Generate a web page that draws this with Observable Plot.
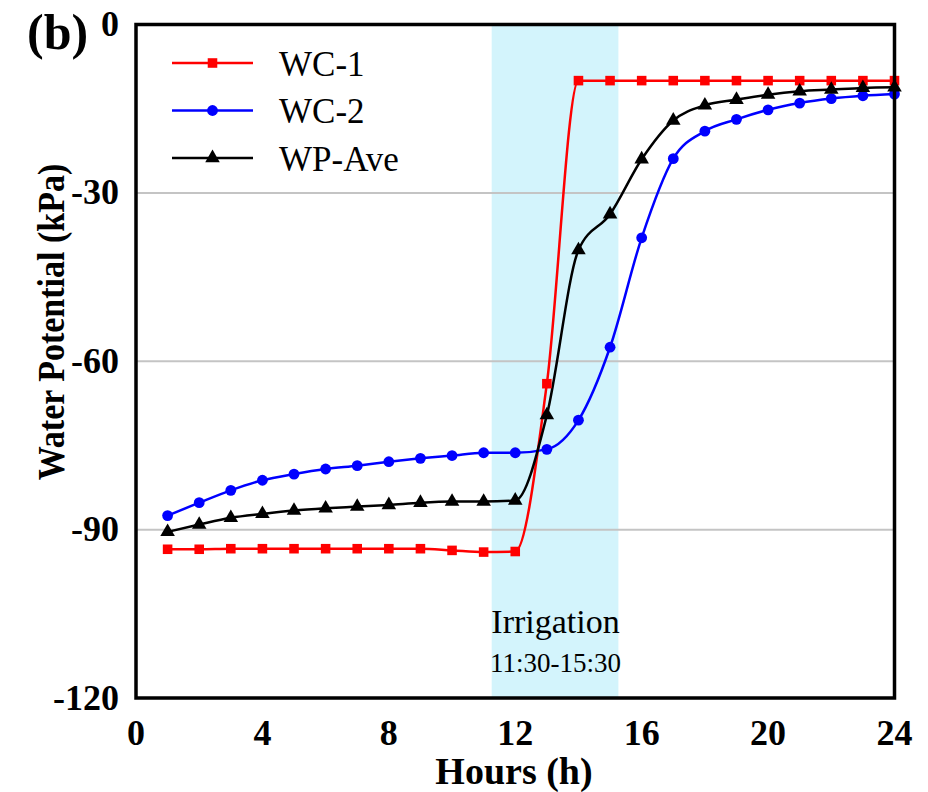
<!DOCTYPE html>
<html>
<head>
<meta charset="utf-8">
<script src="https://cdn.jsdelivr.net/npm/d3@7"></script>
<script src="https://cdn.jsdelivr.net/npm/@observablehq/plot@0.6"></script>
<style>
  html, body { margin: 0; padding: 0; background: #fff; }
  #chart { width: 928px; height: 792px; }
</style>
</head>
<body>
<div id="chart"></div>
<script>
// ---- data ----
const hours = [1,2,3,4,5,6,7,8,9,10,11,12,13,14,15,16,17,18,19,20,21,22,23,24];
const wc1 = [-93.5,-93.5,-93.4,-93.4,-93.4,-93.4,-93.4,-93.4,-93.4,-93.7,-94.0,-93.9,-64.0,-10.0,-10.0,-10.0,-10.0,-10.0,-10.0,-10.0,-10.0,-10.0,-10.0,-10.0];
const wc2 = [-87.5,-85.2,-83.0,-81.2,-80.1,-79.2,-78.6,-77.9,-77.3,-76.8,-76.3,-76.3,-75.7,-70.5,-57.5,-38.0,-23.9,-19.0,-16.9,-15.2,-14.0,-13.2,-12.7,-12.4];
const wpAve = [-90.4,-89.1,-87.9,-87.2,-86.6,-86.2,-85.9,-85.6,-85.2,-85.0,-85.0,-84.8,-69.6,-40.2,-33.8,-24.0,-17.1,-14.4,-13.4,-12.5,-11.9,-11.6,-11.3,-11.2];
const seriesNames = ["WC-1", "WC-2", "WP-Ave"];
const seriesColors = ["#ff0000", "#0000ff", "#000000"];
const seriesSymbols = ["square", "circle", "triangle"];
const xTicks = [0, 4, 8, 12, 16, 20, 24];
const yTicks = [0, -30, -60, -90, -120];
const gridValues = [-30, -60, -90];
const irrigationStart = 11.27;
const irrigationEnd = 15.28;
const irrigationLabels = ["Irrigation", "11:30-15:30"];
const irrigationLabelY = [-106.5, -113.8];
const xLabel = "Hours (h)";
const yLabel = "Water Potential (kPa)";
const panelLabel = "(b)";

// ---- build table ----
const seriesValues = [wc1, wc2, wpAve];
const rows = [];
seriesNames.forEach((name, i) => {
  hours.forEach((h, j) => rows.push({series: name, hour: h, value: seriesValues[i][j]}));
});
const band = [{start: irrigationStart, end: irrigationEnd}];
const mid = (irrigationStart + irrigationEnd) / 2;
const annot = irrigationLabels.map((t, i) => ({x: mid, y: irrigationLabelY[i], text: t, size: i === 0 ? 34 : 27}));

const FONT = "Liberation Serif, Times New Roman, serif";

const plot = Plot.plot({
  width: 928,
  height: 792,
  marginLeft: 135.5,
  marginRight: 34,
  marginTop: 24,
  marginBottom: 94.5,
  style: {fontFamily: FONT, fontWeight: "bold", fontSize: "36px", color: "#000", background: "#fff", overflow: "visible"},
  x: {domain: [0, 24]},
  y: {domain: [-120, 0]},
  color: {domain: seriesNames, range: seriesColors},
  symbol: {domain: seriesNames, range: seriesSymbols},
  marks: [
    Plot.rect(band, {x1: "start", x2: "end", fill: "#d3f4fc"}),
    Plot.ruleY(gridValues, {stroke: "#c4c4c4", strokeWidth: 2}),
    Plot.axisX({ticks: xTicks, tickSize: 0, tickPadding: 21, tickFormat: d => String(d), label: null, fontSize: 36, fontWeight: "bold"}),
    Plot.axisY({ticks: yTicks, tickSize: 0, tickPadding: 17, tickFormat: d => String(d), label: null, fontSize: 36, fontWeight: "bold"}),
    Plot.text(annot, {x: "x", y: "y", text: "text", fontSize: d => d.size, fontWeight: "normal", fill: "#000", fontFamily: FONT}),
    Plot.line(rows, {x: "hour", y: "value", z: "series", stroke: "series", strokeWidth: 2.5, curve: "monotone-x"}),
    Plot.dot(rows, {x: "hour", y: "value", symbol: "series", fill: "series", stroke: "none", r: 5.4}),
    Plot.frame({stroke: "#000", strokeWidth: 3.5})
  ]
});

document.getElementById("chart").appendChild(plot);

// ---- extra text & legend drawn into svg ----
const svg = d3.select(plot);

svg.append("text")
  .attr("x", 27).attr("y", 49)
  .attr("text-anchor", "start")
  .attr("font-family", FONT).attr("font-weight", "bold").attr("font-size", 50)
  .attr("fill", "#000")
  .text(panelLabel);

svg.append("text")
  .attr("transform", "translate(51,322) scale(1.12,1) rotate(-90)")
  .attr("text-anchor", "middle").attr("dominant-baseline", "central")
  .attr("font-family", FONT).attr("font-weight", "bold").attr("font-size", 34)
  .attr("fill", "#000")
  .text(yLabel);

svg.append("text")
  .attr("x", 514).attr("y", 771)
  .attr("text-anchor", "middle").attr("dominant-baseline", "central")
  .attr("font-family", FONT).attr("font-weight", "bold").attr("font-size", 38)
  .attr("fill", "#000")
  .text(xLabel);

const legendY = [63, 110.5, 158];
const lg = svg.append("g");
seriesNames.forEach((name, i) => {
  const g = lg.append("g").attr("transform", `translate(0,${legendY[i]})`);
  g.append("line").attr("x1", 172).attr("x2", 253).attr("y1", 0).attr("y2", 0)
    .attr("stroke", seriesColors[i]).attr("stroke-width", 2.5);
  const sym = {square: d3.symbolSquare, circle: d3.symbolCircle, triangle: d3.symbolTriangle}[seriesSymbols[i]];
  g.append("path").attr("transform", "translate(212.5,0)")
    .attr("d", d3.symbol(sym, Math.PI * 5.4 * 5.4)())
    .attr("fill", seriesColors[i]);
  g.append("text").attr("x", 279).attr("y", 1)
    .attr("text-anchor", "start")
    .attr("dominant-baseline", "central")
    .attr("font-family", FONT).attr("font-size", 35).attr("font-weight", "normal")
    .attr("fill", "#000")
    .text(name);
});
</script>
</body>
</html>
